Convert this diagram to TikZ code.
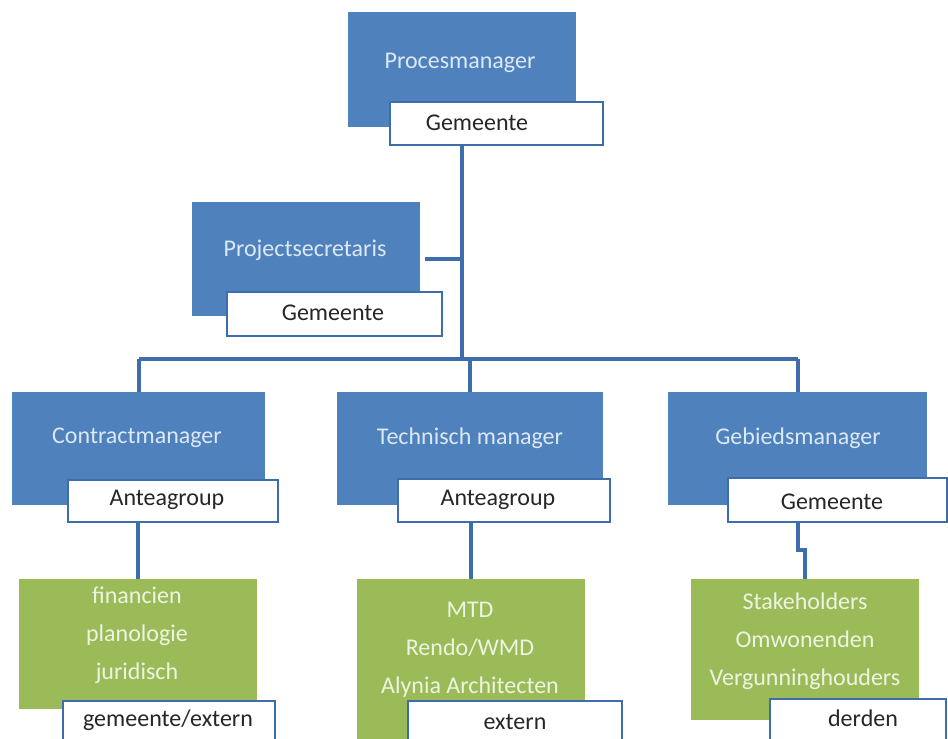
\documentclass[tikz,border=0pt]{standalone}
\usepackage{fontspec}
\setmainfont{Carlito}
\usetikzlibrary{positioning}
\definecolor{ofblue}{HTML}{4F81BD}
\definecolor{ofline}{HTML}{3D6DAB}
\definecolor{ofgreen}{HTML}{9BBB59}
\definecolor{bluetext}{HTML}{DCE8F6}
\definecolor{greentext}{HTML}{EEF4E2}

\begin{document}
\begin{tikzpicture}[x=0.75pt,y=-0.75pt,
    box/.style={inner sep=0pt,minimum height=85pt},
    bluebox/.style={box,fill=ofblue},
    greenbox/.style={box,fill=ofgreen},
    tagbox/.style={inner sep=0pt,minimum height=32.25pt,fill=white,draw=ofline,line width=2.2pt},
    boxtxt/.style={font=\fontsize{18}{28.5}\selectfont,text=bluetext,align=center},
    greentxt/.style={boxtxt,text=greentext},
    tagtxt/.style={font=\fontsize{18}{22}\selectfont,text=black!85},
    link/.style={draw=ofline,line width=3pt}]
  \useasboundingbox (0,0) rectangle (948,738);
  \clip (0,0) rectangle (948,738);

  % blauwe functies
  \node[bluebox,minimum width=171pt,minimum height=86.25pt] (pm) at (462,69.5) {};
  \node[bluebox,minimum width=171pt,minimum height=85.5pt] (ps) at (306,259) {};
  \node[bluebox,minimum width=189.75pt,minimum height=84.75pt] (cm) at (138.5,448.5) {};
  \node[bluebox,minimum width=199.5pt,minimum height=84.75pt] (tm) at (470,448.5) {};
  \node[bluebox,minimum width=194.25pt,minimum height=84.75pt] (gm) at (797.5,448.5) {};

  % groene teams
  \node[greenbox,minimum width=178.5pt,minimum height=97.5pt] (fin) at (138,644) {};
  \node[greenbox,minimum width=171pt,minimum height=135.75pt] (mtd) at (471,669.5) {};
  \node[greenbox,minimum width=171pt,minimum height=105.75pt] (sh) at (805,649.5) {};

  % lijnen
  \coordinate (bus) at (462,359);
  \draw[link] (pm.south |- 0,145) -- (bus);
  \draw[link] (cm.north |- bus) -- (gm.north |- bus);
  \draw[link] ([xshift=3.75pt]ps.east) -- (ps.east -| bus);
  \draw[link] (cm.north |- bus) -- (cm.north);
  \draw[link] (tm.north |- bus) -- (tm.north);
  \draw[link] (gm.north |- bus) -- (gm.north);
  \draw[link] (fin.north |- 0,522) -- (fin.north);
  \draw[link] (mtd.north |- 0,522) -- (mtd.north);
  \draw[link] (gm.south |- 0,522) -- (gm.south |- 0,550) -| (sh.north);

  % organisatie-labels
  \node[tagbox,minimum width=159.75pt] (pg) at (496.5,123.5) {};
  \node[tagbox,minimum width=161.25pt,minimum height=33pt] (psg) at (334.5,314) {};
  \node[tagbox,minimum width=157.5pt,minimum height=31.5pt] (cg) at (173,501) {};
  \node[tagbox,minimum width=159pt] (tg) at (504,500.5) {};
  \node[tagbox,minimum width=164.25pt,minimum height=33pt] (gg) at (837.5,500) {};
  \node[tagbox,minimum width=159pt,minimum height=44.25pt] (fing) at (169,730.5) {};
  \node[tagbox,minimum width=160.5pt,minimum height=44.25pt] (mtdg) at (515,730.5) {};
  \node[tagbox,minimum width=132pt,minimum height=45.75pt] (shg) at (858,729.5) {};

  % teksten
  \node[boxtxt] (pmt) at (460,63) {Procesmanager};
  \node[boxtxt] (pst) at (305,250) {Projectsecretaris};
  \node[boxtxt] (cmt) at (137,438) {Contractmanager};
  \node[boxtxt] (tmt) at (470,438) {Technisch manager};
  \node[boxtxt] (gmt) at (798,438) {Gebiedsmanager};
  \node[greentxt] (fint) at (137,635) {financien\\planologie\\juridisch};
  \node[greentxt] (mtdt) at (470,650) {MTD\\Rendo/WMD\\Alynia Architecten};
  \node[greentxt] (sht) at (805,641.5) {Stakeholders\\Omwonenden\\Vergunninghouders};

  \node[tagtxt] (pgt) at (477,123) {Gemeente};
  \node[tagtxt] (psgt) at (333,313) {Gemeente};
  \node[tagtxt] (cgt) at (167,500) {Anteagroup};
  \node[tagtxt] (tgt) at (498,500) {Anteagroup};
  \node[tagtxt] (ggt) at (832,502) {Gemeente};
  \node[tagtxt] (fingt) at (168,720) {gemeente/extern};
  \node[tagtxt] (mtdgt) at (515,722) {extern};
  \node[tagtxt] (shgt) at (863,718) {derden};
\end{tikzpicture}
\end{document}
